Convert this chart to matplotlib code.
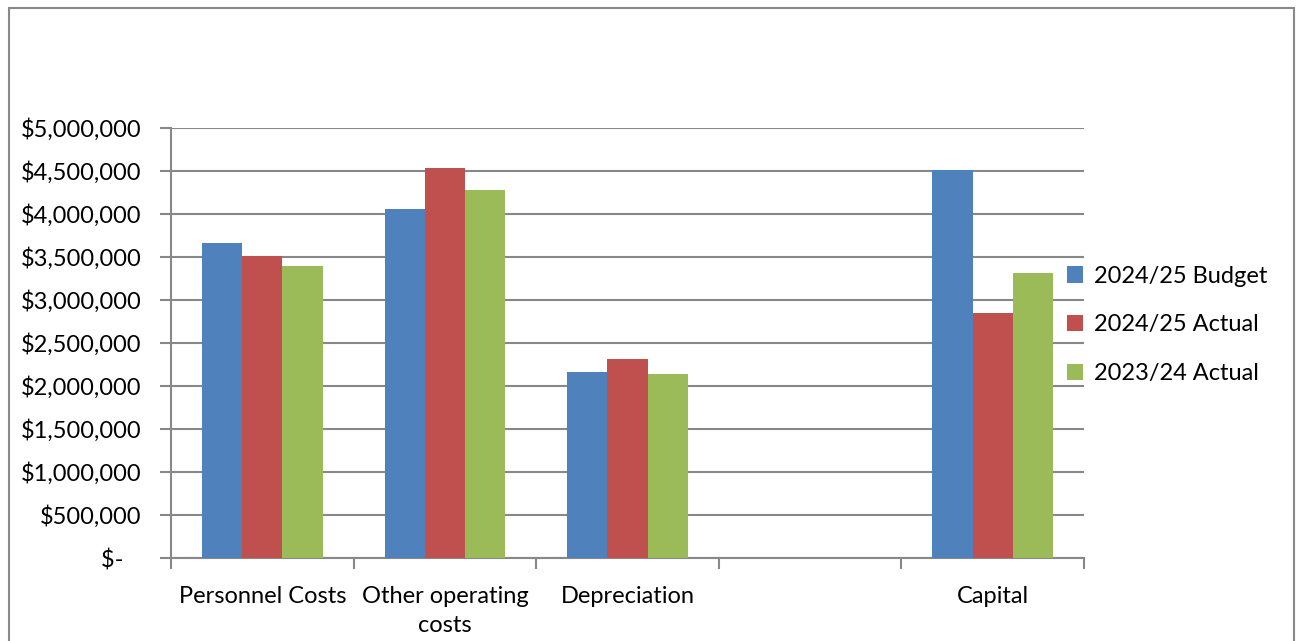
import matplotlib.pyplot as plt
import numpy as np
from matplotlib.patches import Rectangle

categories = ["Personnel Costs", "Other operating\ncosts", "Depreciation", "", "Capital"]
series_names = ["2024/25 Budget", "2024/25 Actual", "2023/24 Actual"]
budget_2425 = [3663000, 4054000, 2163000, 0, 4508000]
actual_2425 = [3515000, 4535000, 2314000, 0, 2853000]
actual_2324 = [3395000, 4279000, 2143000, 0, 3314000]
y_ticks = [0, 500000, 1000000, 1500000, 2000000, 2500000, 3000000, 3500000, 4000000, 4500000, 5000000]

colors = ["#4F81BD", "#C0504D", "#9BBB59"]
grid_col = "#888888"

plt.rcParams['font.family'] = ['Lato', 'DejaVu Sans']

fig = plt.figure(figsize=(13.02, 6.41), dpi=100)
ax = fig.add_axes([171/1302, 1 - 558/641, (1084 - 171)/1302, (558 - 128)/641])

x = np.arange(len(categories))
w = 0.22
for i, vals in enumerate([budget_2425, actual_2425, actual_2324]):
    ax.bar(x + (i - 1) * w, vals, width=w, color=colors[i], label=series_names[i], zorder=3)

ax.set_xlim(-0.5, len(categories) - 0.5)
ax.set_ylim(0, 5000000)
ax.set_yticks(y_ticks)
ax.set_yticklabels(["$-   "] + ["${:,.0f}".format(v) for v in y_ticks[1:]])
ax.yaxis.grid(True, color=grid_col, linewidth=1.5, zorder=0)
ax.tick_params(axis='y', length=8, width=1.5, color=grid_col, labelsize=17, pad=13)

# category boundary ticks on x axis
ax.set_xticks(np.arange(len(categories) + 1) - 0.5)
ax.set_xticklabels([])
ax.set_xticks(x, minor=True)
ax.set_xticklabels(categories, minor=True, fontsize=17, linespacing=1.5)
ax.tick_params(axis='x', which='major', length=8, width=1.5, color=grid_col)
ax.tick_params(axis='x', which='minor', length=0, pad=20)

for s in ["top", "right"]:
    ax.spines[s].set_visible(False)
for s in ["left", "bottom"]:
    ax.spines[s].set_color(grid_col)
    ax.spines[s].set_linewidth(1.5)

leg = ax.legend(loc='center left', bbox_to_anchor=(0.958, 0.542), frameon=False, fontsize=17,
                handlelength=0.7, handleheight=0.7, handletextpad=0.45, labelspacing=1.17)

fig.patches.append(Rectangle((8.5/1302, -0.02), (1294 - 8.5)/1302, 1.02 - 8/641,
                             transform=fig.transFigure, fill=False, edgecolor=grid_col, linewidth=1.5))

fig.savefig("out.png", dpi=100)
